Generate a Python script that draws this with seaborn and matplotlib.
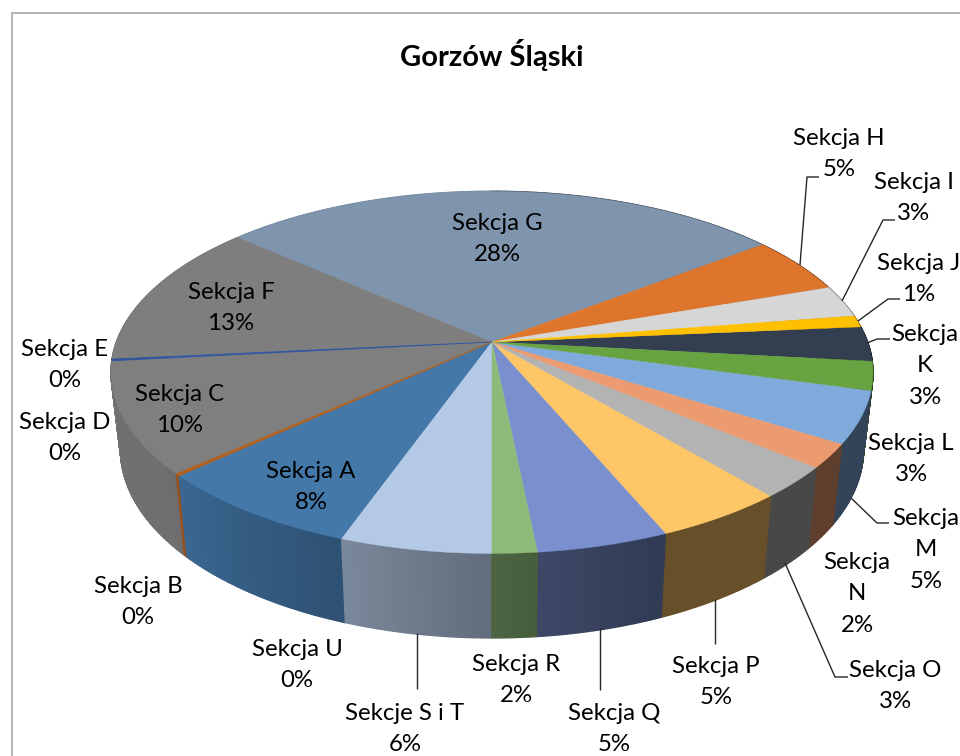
import matplotlib.pyplot as plt
import numpy as np
import seaborn as sns

title = "Gorzów Śląski"

# Sections clockwise, shares
sections = ["Sekcja A", "Sekcja B", "Sekcja C", "Sekcja D", "Sekcja E", "Sekcja F", "Sekcja G",
            "Sekcja H", "Sekcja I", "Sekcja J", "Sekcja K", "Sekcja L", "Sekcja M", "Sekcja N",
            "Sekcja O", "Sekcja P", "Sekcja Q", "Sekcja R", "Sekcje S i T", "Sekcja U"]
shares = [7.76, 0.18, 9.92, 0.0, 0.14, 12.97, 28.14, 5.14, 2.86, 1.03, 3.11, 2.53, 4.64, 2.11,
          2.81, 4.81, 4.78, 1.61, 5.47, 0.0]
printed = ["8%", "0%", "10%", "0%", "0%", "13%", "28%", "5%", "3%", "1%", "3%", "3%", "5%", "2%",
           "3%", "5%", "5%", "2%", "6%", "0%"]
colors = ["#4478A9", "#B0601F", "#7F7F7F", "#7F7F7F", "#2F55A0", "#7E7E7E", "#7F95AE",
          "#DD752D", "#D6D6D6", "#FFC000", "#333F50", "#67A340", "#7FAADB", "#EC9A6F",
          "#B3B3B3", "#FEC666", "#7A90CE", "#8DBA78", "#B4C9E5", "#5B7FA5"]

# Label layout: centre x, centre y, and whether the name wraps
label_pos = {
    "Sekcja A": (311, 487, False), "Sekcja B": (138, 602, False), "Sekcja C": (180, 410, False),
    "Sekcja D": (65, 438, False), "Sekcja E": (65, 365, False), "Sekcja F": (231, 308, False),
    "Sekcja G": (497, 239, False), "Sekcja H": (839, 154, False), "Sekcja I": (914, 198, False),
    "Sekcja J": (919, 279, False), "Sekcja K": (925, 366, True), "Sekcja L": (911, 459, False),
    "Sekcja M": (926, 550, True), "Sekcja N": (857, 594, True), "Sekcja O": (895, 686, False),
    "Sekcja P": (716, 682, False), "Sekcja Q": (614, 729, False), "Sekcja R": (516, 680, False),
    "Sekcje S i T": (405, 729, False), "Sekcja U": (297, 665, False),
}

leaders = [
    [(800, 265), (807, 177), (819, 177)],
    [(842, 301), (883, 220), (895, 220)],
    [(858, 321), (888, 299), (900, 299)],
    [(867, 343), (877, 339), (890, 339)],
    [(851, 498), (877, 523), (889, 523)],
    [(785, 563), (835, 677), (848, 677)],
    [(715, 599), (715, 644)],
    [(600, 628), (600, 690)],
    [(417, 633), (417, 689)],
]

sns.set_theme(style="white")
plt.rcParams["font.family"] = ["Lato", "DejaVu Sans"]

# Perspective of the pie, in pixels of the picture
CX, CY = 492, 342
RX, RY, PERSP = 375.6, 176, 0.1677
START = 199.7
BOTTOM_X, BOTTOM_Y, BOTTOM_DROP = 0.975, 1.04, 76


def top_rim(phi):
    t = np.radians(phi)
    u, v = np.sin(t), np.cos(t)
    w = 1 + PERSP * v
    return CX + RX * u / w, CY - RY * v / w


def bottom_rim(phi):
    x, y = top_rim(phi)
    return CX + BOTTOM_X * (x - CX), CY + BOTTOM_DROP + BOTTOM_Y * (y - CY)


def wall_shade(phi):
    # side gets lighter from the right round to the left
    return np.interp(phi % 360, [120, 156, 174, 200, 230, 270], [0.40, 0.40, 0.50, 0.68, 0.87, 0.90])


fig = plt.figure(figsize=(9.6, 7.56), dpi=100)
ax = fig.add_axes([0, 0, 1, 1])
ax.set_xlim(0, 960)
ax.set_ylim(756, 0)
ax.axis("off")

ax.plot([12, 12, 960], [756, 13, 13], color="#A6A6A6", lw=1.2)

palette = sns.color_palette(colors)
total = sum(shares)
edges = START + np.cumsum([0] + shares) * 360 / total

# Side wall first, in small strips so the shading runs across each slice
strips = []
for i, share in enumerate(shares):
    if share <= 0:
        continue
    n = max(2, int((edges[i + 1] - edges[i]) / 0.5) + 1)
    phis = np.linspace(edges[i], edges[i + 1], n)
    for a, b in zip(phis[:-1], phis[1:]):
        strips.append((a, b, i))
strips.sort(key=lambda s: top_rim((s[0] + s[1]) / 2)[1])
for a, b, i in strips:
    c = np.array(palette[i]) * wall_shade((a + b) / 2)
    xa, ya = top_rim(a)
    xb, yb = top_rim(b)
    xc, yc = bottom_rim(b)
    xd, yd = bottom_rim(a)
    ax.fill([xa, xb, xc, xd], [ya, yb, yc, yd], color=c, lw=1.0, joinstyle="round")

# Top face, the hairline slices go last so their neighbours do not cover them
order = sorted(range(len(shares)), key=lambda i: -shares[i])
for i in order:
    if shares[i] <= 0:
        continue
    phis = np.linspace(edges[i], edges[i + 1], max(3, int(shares[i] * 8)))
    x, y = top_rim(phis)
    lw = 0.6 if shares[i] < 0.3 else 0.3
    ax.fill(np.r_[CX, x], np.r_[CY, y], color=palette[i], lw=lw)

for pts in leaders:
    xs, ys = zip(*pts)
    ax.plot(xs, ys, color="#262626", lw=1.0, solid_capstyle="butt")

ax.text(492, 55, title, ha="center", va="center", fontsize=21, fontweight="bold", color="black")
for name, pct in zip(sections, printed):
    x, y, wrap = label_pos[name]
    text = name.replace(" ", "\n") if wrap else name
    ax.text(x, y, text + "\n" + pct, ha="center", va="center", fontsize=17.3,
            color="black", linespacing=1.6)

fig.savefig("out.png", dpi=100, facecolor="white")
